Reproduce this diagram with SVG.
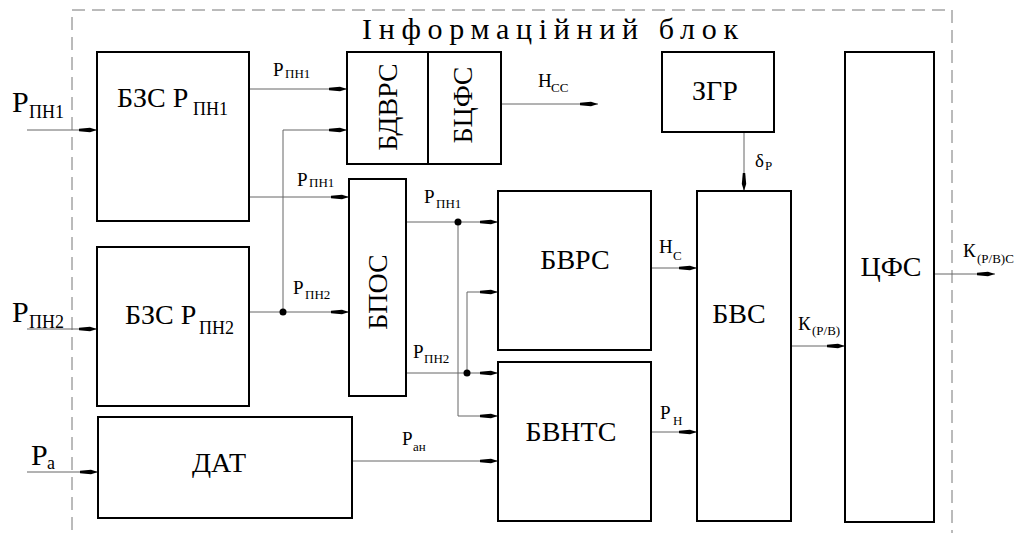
<svg xmlns="http://www.w3.org/2000/svg" width="1016" height="533" viewBox="0 0 1016 533" font-family="'Liberation Serif', 'DejaVu Serif', serif">
<style>
.box{fill:#fff;stroke:#000;stroke-width:2}
.wire{fill:none;stroke:#666;stroke-width:1}
.arr{marker-end:url(#ah)}
.frame{fill:none;stroke:#777;stroke-width:1;stroke-dasharray:13 7}
text{font-family:'Liberation Serif','DejaVu Serif',serif;fill:#000}
.t{font-size:28px}
.big{font-size:30px}
.bsub{font-size:18px}
.lbl{font-size:19px}
.sub{font-size:13px}
.title{font-size:30px}
.dot{fill:#000}
</style>
<defs>
<marker id="ah" markerUnits="userSpaceOnUse" markerWidth="18" markerHeight="6" refX="18" refY="3" orient="auto" overflow="visible">
<path d="M0,1.8 L11,0.8 L18,3 L11,5.2 L0,4.2 z" fill="#000"/>
</marker>
</defs>
<rect class="frame" x="72" y="10" width="880" height="540"/>
<text class="title" x="362" y="39" textLength="376" lengthAdjust="spacing">Інформаційний блок</text>

<g id="connectors">
<path class="wire arr" d="M27,130 H97"/>
<path class="wire arr" d="M27,329 H97"/>
<path class="wire arr" d="M27,472 H98"/>
<path class="wire arr" d="M249,89 H347"/>
<path class="wire arr" d="M249,197 H349"/>
<path class="wire arr" d="M249,312 H349"/>
<path class="wire arr" d="M283,312 V130 H347"/>
<path class="wire arr" d="M501,104 H598"/>
<path class="wire arr" d="M744,132 V191"/>
<path class="wire arr" d="M406,222 H498"/>
<path class="wire arr" d="M458,222 V416 H498"/>
<path class="wire arr" d="M406,373 H498"/>
<path class="wire arr" d="M467,373 V292 H498"/>
<path class="wire arr" d="M352,461 H498"/>
<path class="wire arr" d="M651,268 H697"/>
<path class="wire arr" d="M651,432 H697"/>
<path class="wire arr" d="M791,346 H845"/>
<path class="wire arr" d="M934,274 H995"/>
<circle class="dot" cx="283" cy="312" r="3.5"/>
<circle class="dot" cx="458" cy="222" r="3.5"/>
<circle class="dot" cx="467" cy="373" r="3.5"/>
</g>

<g id="inputs">
<text class="big" x="12" y="112">P</text><text class="bsub" x="29" y="118">ПН1</text>
<text class="big" x="12" y="322">P</text><text class="bsub" x="29" y="328">ПН2</text>
<text class="big" x="31" y="465">P</text><text class="bsub" x="47" y="469">а</text>
</g>

<g id="wire-labels">
<text class="lbl" x="273" y="76">P</text><text class="sub" x="285" y="78">ПН1</text>
<text class="lbl" x="297" y="186">P</text><text class="sub" x="309" y="187">ПН1</text>
<text class="lbl" x="293" y="294">P</text><text class="sub" x="305" y="299">ПН2</text>
<text class="lbl" x="424" y="203">P</text><text class="sub" x="436" y="208">ПН1</text>
<text class="lbl" x="413" y="358">P</text><text class="sub" x="424" y="363">ПН2</text>
<text class="lbl" x="402" y="445">P</text><text class="sub" x="413" y="451">ан</text>
<text class="lbl" x="538" y="87">H</text><text class="sub" x="551" y="92">CC</text>
<text class="lbl" x="755" y="167">δ</text><text class="sub" x="765" y="170">P</text>
<text class="lbl" x="659" y="253">H</text><text class="sub" x="673" y="260">C</text>
<text class="lbl" x="660" y="419">P</text><text class="sub" x="673" y="425">H</text>
<text class="lbl" x="798" y="330">К</text><text class="sub" x="812" y="335">(P/B)</text>
<text class="lbl" x="963" y="257">К</text><text class="sub" x="977" y="263">(P/B)C</text>
</g>

<g id="bzs1">
<rect class="box" x="97" y="52" width="152" height="169"/>
<text class="t" x="117" y="107">БЗС P</text><text class="bsub" x="193" y="115">ПН1</text>
</g>
<g id="bzs2">
<rect class="box" x="97" y="247" width="152" height="159"/>
<text class="t" x="125" y="324">БЗС P</text><text class="bsub" x="199" y="334">ПН2</text>
</g>
<g id="dat">
<rect class="box" x="98" y="417" width="254" height="101"/>
<text class="t" x="219" y="472" text-anchor="middle">ДАТ</text>
</g>
<g id="bdvrs-bcfs">
<rect class="box" x="347" y="52" width="154" height="112"/>
<line x1="428" y1="52" x2="428" y2="164" stroke="#000" stroke-width="2"/>
<text class="t" transform="translate(397,107) rotate(-90)" text-anchor="middle">БДВРС</text>
<text class="t" transform="translate(472,105) rotate(-90)" text-anchor="middle">БЦФС</text>
</g>
<g id="bpos">
<rect class="box" x="349" y="179" width="57" height="217"/>
<text class="t" transform="translate(387,292) rotate(-90)" text-anchor="middle">БПОС</text>
</g>
<g id="bvrs">
<rect class="box" x="498" y="191" width="153" height="159"/>
<text class="t" x="575" y="269" text-anchor="middle">БВРС</text>
</g>
<g id="bvnts">
<rect class="box" x="498" y="362" width="153" height="159"/>
<text class="t" x="571" y="441" text-anchor="middle">БВНТС</text>
</g>
<g id="zgr">
<rect class="box" x="662" y="52" width="112" height="80"/>
<text class="t" x="715" y="100" text-anchor="middle">ЗГР</text>
</g>
<g id="bvs">
<rect class="box" x="697" y="191" width="94" height="330"/>
<text class="t" x="739" y="323" text-anchor="middle">БВС</text>
</g>
<g id="cfs">
<rect class="box" x="845" y="52" width="89" height="470"/>
<text class="t" x="891" y="276" text-anchor="middle">ЦФС</text>
</g>
</svg>
